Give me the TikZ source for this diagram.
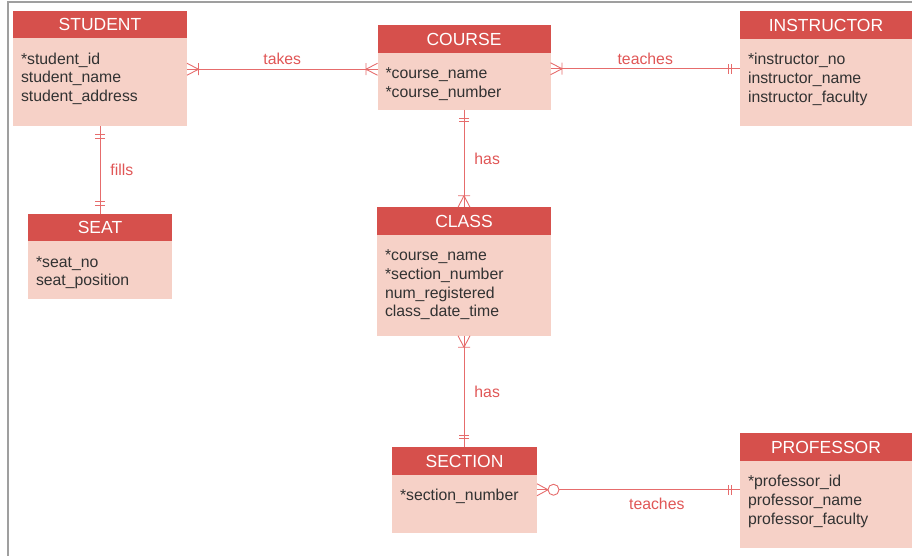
\documentclass[tikz,border=0pt]{standalone}
\usepackage{fontspec}
\setmainfont{Liberation Sans}
\usepackage{tikz}
\usetikzlibrary{positioning}

\definecolor{headred}{RGB}{214,80,76}
\definecolor{bodypink}{RGB}{246,209,199}
\definecolor{linered}{RGB}{230,108,108}
\definecolor{labelred}{RGB}{224,86,86}
\definecolor{attrgray}{RGB}{50,50,50}

% attribute list: width, height, lines
\newcommand{\attrlist}[3]{\parbox[c][#2][t]{#1}{\raggedright\rule{0pt}{26pt}#3}}

\tikzset{
  entity/.style={fill=headred, text=white, minimum height=27.5pt, inner sep=0pt, outer sep=0pt,
    font=\fontsize{17.5}{20}\selectfont},
  attrbox/.style={fill=bodypink, text=attrgray, inner xsep=8pt, inner ysep=0pt, outer sep=0pt,
    font=\fontsize{15.8}{18.7}\selectfont},
  rel/.style={draw=linered, line width=0.9pt},
  rellabel/.style={text=labelred, font=\fontsize{15.8}{18.7}\selectfont, inner sep=3pt},
  frame/.style={draw=gray!75, line width=1.6pt},
  onemany/.pic={\draw[rel] (0,6) -- (11.5,0) -- (0,-6) (11.5,-6) -- (11.5,6);},
  oneone/.pic={\draw[rel] (8.5,-5) -- (8.5,5) (12,-5) -- (12,5);},
  zeromany/.pic={\draw[rel] (0,6) -- (11,0) -- (0,-6); \draw[rel, fill=white] (16.5,0) circle (5.5);}
}

\begin{document}
\begin{tikzpicture}[x=1pt, y=-1pt]
	\useasboundingbox (0,0) rectangle (912,556);
	% 边框
	\draw[frame] (8,556) -- (8,2) -- (912,2);
	
	% 实体
	\node[entity, minimum width=174pt] (student) at (100,24.5) {STUDENT};
	\node[attrbox, below=0pt of student] (studentattr)
	{\attrlist{158pt}{88pt}{*student\_id\\student\_name\\student\_address}};
	
	\node[entity, minimum width=173pt] (course) at (464,39) {COURSE};
	\node[attrbox, below=0pt of course] (courseattr)
	{\attrlist{157pt}{57pt}{*course\_name\\{}*course\_number}};
	
	\node[entity, minimum width=172pt] (instructor) at (826,25) {INSTRUCTOR};
	\node[attrbox, below=0pt of instructor] (instructorattr)
	{\attrlist{156pt}{87pt}{*instructor\_no\\instructor\_name\\instructor\_faculty}};
	
	\node[entity, minimum width=144pt] (seat) at (100,227.5) {SEAT};
	\node[attrbox, below=0pt of seat] (seatattr)
	{\attrlist{128pt}{58pt}{*seat\_no\\seat\_position}};
	
	\node[entity, minimum width=174pt] (class) at (464,221) {CLASS};
	\node[attrbox, below=0pt of class] (classattr)
	{\attrlist{158pt}{101pt}{*course\_name\\{}*section\_number\\num\_registered\\class\_date\_time}};
	
	\node[entity, minimum width=145pt] (section) at (464.5,461) {SECTION};
	\node[attrbox, below=0pt of section] (sectionattr)
	{\attrlist{129pt}{58pt}{*section\_number}};
	
	\node[entity, minimum width=172pt] (professor) at (826,447) {PROFESSOR};
	\node[attrbox, below=0pt of professor] (professorattr)
	{\attrlist{156pt}{87pt}{*professor\_id\\professor\_name\\professor\_faculty}};
	
	% 联系
	\draw[rel] ([yshift=13pt]studentattr.east) -- ([yshift=13pt]studentattr.east -| courseattr.west)
	node[midway, above=1pt, rellabel] {takes};
	\pic at ([yshift=13pt]studentattr.east) {onemany};
	\pic[rotate=180] at ([yshift=13pt]studentattr.east -| courseattr.west) {onemany};
	
	\draw[rel] ([yshift=12.5pt]courseattr.east) -- ([yshift=12.5pt]courseattr.east -| instructorattr.west)
	node[midway, above=1pt, rellabel] {teaches};
	\pic at ([yshift=12.5pt]courseattr.east) {onemany};
	\pic[rotate=180] at ([yshift=12.5pt]courseattr.east -| instructorattr.west) {oneone};
	
	\draw[rel] (studentattr.south) -- (seat.north) node[midway, right=7pt, rellabel] {fills};
	\pic[rotate=-90] at (studentattr.south) {oneone};
	\pic[rotate=90] at (seat.north) {oneone};
	
	\draw[rel] (courseattr.south) -- (class.north) node[midway, right=7pt, rellabel] {has};
	\pic[rotate=-90] at (courseattr.south) {oneone};
	\pic[rotate=90] at (class.north) {onemany};
	
	\draw[rel] (classattr.south) -- (classattr.south |- section.north) node[midway, right=7pt, rellabel] {has};
	\pic[rotate=-90] at (classattr.south) {onemany};
	\pic[rotate=90] at (classattr.south |- section.north) {oneone};
	
	\draw[rel] ([yshift=14pt]sectionattr.east) -- ([yshift=14pt]sectionattr.east -| professorattr.west)
	node[pos=0.59, below=5pt, rellabel] {teaches};
	\pic at ([yshift=14pt]sectionattr.east) {zeromany};
	\pic[rotate=180] at ([yshift=14pt]sectionattr.east -| professorattr.west) {oneone};
\end{tikzpicture}
\end{document}
